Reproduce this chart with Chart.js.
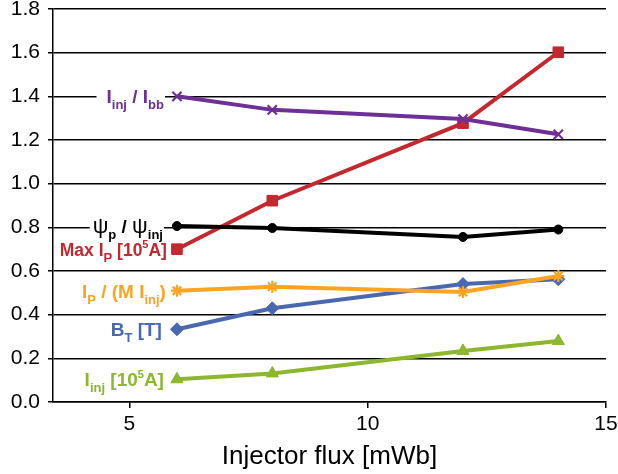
<!DOCTYPE html>
<html>
<head>
<meta charset="utf-8">
<script src="https://cdn.jsdelivr.net/npm/chart.js@4.4.1/dist/chart.umd.min.js"></script>
<style>
html,body{margin:0;padding:0;background:#fff;}
canvas{display:block;}
</style>
</head>
<body>
<canvas id="c" width="618" height="474"></canvas>
<script>
// ---- data ----
const injectorFlux = [6, 8, 12, 14];
const iinjOverIbb = [1.40, 1.338, 1.296, 1.226];
const psiPOverPsiInj = [0.806, 0.797, 0.756, 0.79];
const ipOverMIinj = [0.51, 0.528, 0.504, 0.577];
const maxIp = [0.70, 0.922, 1.277, 1.602];
const bT = [0.333, 0.429, 0.54, 0.562];
const iinj = [0.104, 0.131, 0.234, 0.279];
const xTickValues = [5, 10, 15];
const yTickValues = [0, 0.2, 0.4, 0.6, 0.8, 1.0, 1.2, 1.4, 1.6, 1.8];
const xTitle = 'Injector flux [mWb]';

// series labels (rich text parts: n = normal, b = subscript, p = superscript, g = greek)
const labelIinjIbb = [['I','n'],['inj','b'],[' / ','n'],['I','n'],['bb','b']];
const labelPsi = [['ψ','g'],['p','b'],[' / ','n'],['ψ','g'],['inj','b']];
const labelMaxIp = [['Max I','n'],['P','b'],[' [10','n'],['5','p'],['A]','n']];
const labelIpM = [['I','n'],['P','b'],[' / (M I','n'],['inj','b'],[')','n']];
const labelBt = [['B','n'],['T','b'],[' [T]','n']];
const labelIinj = [['I','n'],['inj','b'],[' [10','n'],['5','p'],['A]','n']];

const FONT = '"Liberation Sans", Arial, sans-serif';

function pts(ys){ return injectorFlux.map((x,i)=>({x:x, y:ys[i]})); }

const series = [
  {data: iinjOverIbb, color:'#6E2F96', style:'crossRot', r:6.5, label: labelIinjIbb, gap:13, fs:19, lp:10},
  {data: psiPOverPsiInj, color:'#000000', style:'circle', r:4.5, label: labelPsi, gap:14, fs:19, lp:3},
  {data: ipOverMIinj, color:'#FBA422', style:'star', r:6, label: labelIpM, gap:11, fs:19, lp:4},
  {data: maxIp, color:'#C3282E', style:'rect', r:7.5, label: labelMaxIp, gap:10, fs:17.5, lp:4},
  {data: bT, color:'#4A68B0', style:'rectRot', r:6.5, label: labelBt, gap:15, fs:19, lp:4},
  {data: iinj, color:'#8DB72E', style:'triangle', r:7, label: labelIinj, gap:13, fs:19, lp:4}
];

const labelPlugin = {
  id: 'seriesLabels',
  beforeDatasetsDraw(chart){
    const ctx = chart.ctx;
    const xs = chart.scales.x, ys = chart.scales.y;
    const layouts = series.map((s)=>{
      const px = xs.getPixelForValue(injectorFlux[0]);
      const py = ys.getPixelForValue(s.data[0]);
      const right = px - s.gap;
      const parts = s.label.map(([t,k])=>{
        let font, dy = 0;
        if (k === 'n') font = 'bold ' + s.fs + 'px ' + FONT;
        else if (k === 'g') font = '22px ' + FONT;
        else if (k === 'b') { font = 'bold 13px ' + FONT; dy = 6; }
        else { font = 'bold 11px ' + FONT; dy = -8; }
        ctx.font = font;
        return {t, font, dy, w: ctx.measureText(t).width};
      });
      const total = parts.reduce((a,p)=>a+p.w,0);
      return {s, py, right, parts, total};
    });
    ctx.save();
    ctx.fillStyle = '#ffffff';
    layouts.forEach(L=>{
      ctx.fillRect(L.right - L.total - L.s.lp, L.py - 10, L.total + L.s.lp + 1, 20);
    });
    ctx.textBaseline = 'alphabetic';
    ctx.textAlign = 'left';
    layouts.forEach(L=>{
      let x = L.right - L.total;
      const base = L.py + 7;
      ctx.fillStyle = L.s.color;
      L.parts.forEach(p=>{
        ctx.font = p.font;
        ctx.fillText(p.t, x, base + p.dy);
        x += p.w;
      });
    });
    ctx.restore();
  }
};

new Chart(document.getElementById('c'), {
  type: 'line',
  data: {
    datasets: series.map(s=>({
      data: pts(s.data),
      borderColor: s.color,
      backgroundColor: s.color,
      borderWidth: 4,
      tension: 0,
      pointStyle: s.style,
      pointRadius: s.r,
      pointBorderWidth: (s.style==='crossRot'||s.style==='star') ? 2.2 : 1,
      pointBorderColor: s.color,
      pointBackgroundColor: s.color,
      fill: false
    }))
  },
  options: {
    responsive: false,
    animation: false,
    events: [],
    layout: { autoPadding: false, padding: { top: 9, right: 12, left: 0, bottom: 0 } },
    plugins: { legend: { display: false }, tooltip: { enabled: false } },
    scales: {
      x: {
        type: 'linear',
        min: 3.4,
        max: 15,
        afterFit(scale){ scale.height = 72; scale.paddingLeft = 0; scale.paddingRight = 0; },
        afterBuildTicks(scale){ scale.ticks = xTickValues.map(v=>({value:v})); },
        grid: { drawOnChartArea: false, drawTicks: true, tickLength: 6, color: '#000', lineWidth: 1.5 },
        border: { display: true, color: '#000', width: 1.5 },
        ticks: { color: '#000', font: { family: FONT, size: 21 }, padding: 4, maxRotation: 0 },
        title: { display: true, text: xTitle, color: '#000', font: { family: FONT, size: 26 }, padding: { top: 0, bottom: 2 } }
      },
      y: {
        type: 'linear',
        min: 0,
        max: 1.8,
        afterFit(scale){ scale.width = 53; scale.paddingTop = 0; scale.paddingBottom = 0; },
        afterBuildTicks(scale){ scale.ticks = yTickValues.map(v=>({value:v})); },
        grid: { drawOnChartArea: true, drawTicks: true, tickLength: 5, color: '#000', lineWidth: 1.5 },
        border: { display: true, color: '#000', width: 1.5 },
        ticks: { color: '#000', font: { family: FONT, size: 21 }, padding: 8, callback: v => Number(v).toFixed(1) }
      }
    }
  },
  plugins: [labelPlugin]
});
</script>
</body>
</html>
